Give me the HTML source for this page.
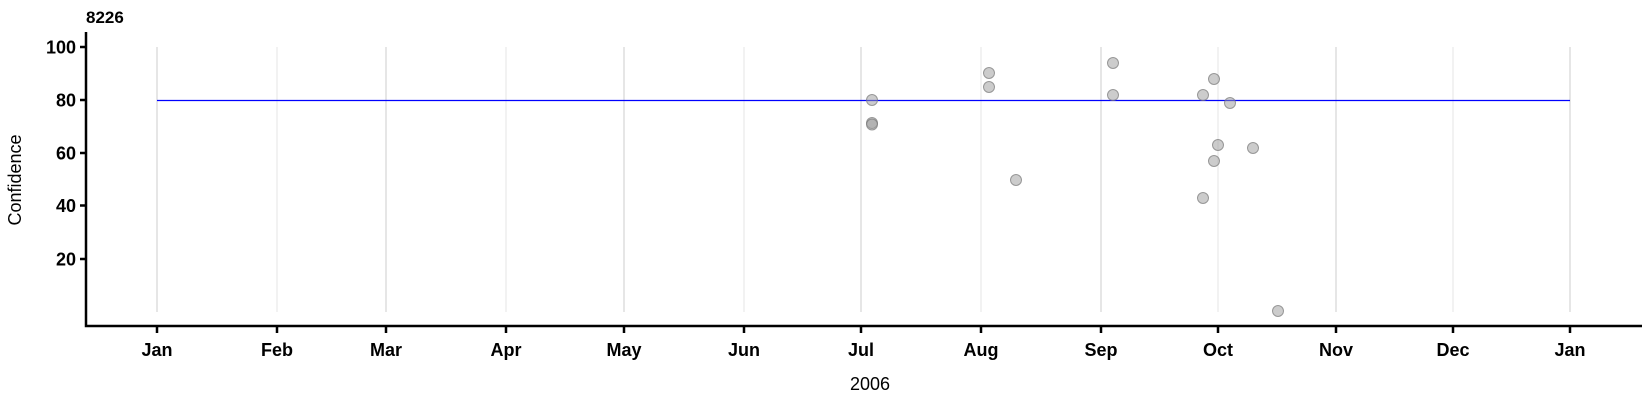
<!DOCTYPE html>
<html><head><style>body{margin:0;background:#fff}</style></head><body>
<svg width="1650" height="400" xmlns="http://www.w3.org/2000/svg" font-family="Liberation Sans, Arial, sans-serif">
<rect width="1650" height="400" fill="#fff"/>
<g stroke-width="1">
<line x1="157" x2="157" y1="47" y2="312" stroke="#ccc"/>
<line x1="277" x2="277" y1="47" y2="312" stroke="#e6e6e6"/>
<line x1="386" x2="386" y1="47" y2="312" stroke="#ccc"/>
<line x1="506" x2="506" y1="47" y2="312" stroke="#e6e6e6"/>
<line x1="624" x2="624" y1="47" y2="312" stroke="#ccc"/>
<line x1="744" x2="744" y1="47" y2="312" stroke="#e6e6e6"/>
<line x1="861" x2="861" y1="47" y2="312" stroke="#ccc"/>
<line x1="981" x2="981" y1="47" y2="312" stroke="#e6e6e6"/>
<line x1="1101" x2="1101" y1="47" y2="312" stroke="#ccc"/>
<line x1="1218" x2="1218" y1="47" y2="312" stroke="#e6e6e6"/>
<line x1="1336" x2="1336" y1="47" y2="312" stroke="#ccc"/>
<line x1="1453" x2="1453" y1="47" y2="312" stroke="#e6e6e6"/>
<line x1="1570" x2="1570" y1="47" y2="312" stroke="#ccc"/>
</g>
<line x1="157" x2="1570" y1="100.5" y2="100.5" stroke="#0000ff" stroke-width="1.2"/>
<g fill="#999" fill-opacity="0.5" stroke="#777" stroke-opacity="0.7" stroke-width="1">
<circle cx="872" cy="100" r="5.5"/><circle cx="872" cy="123" r="5.5"/><circle cx="872" cy="124.5" r="5.5"/>
<circle cx="989" cy="73" r="5.5"/><circle cx="989" cy="87" r="5.5"/><circle cx="1016" cy="180" r="5.5"/>
<circle cx="1113" cy="63" r="5.5"/><circle cx="1113" cy="95" r="5.5"/>
<circle cx="1203" cy="95" r="5.5"/><circle cx="1214" cy="79" r="5.5"/><circle cx="1230" cy="103" r="5.5"/>
<circle cx="1218" cy="145" r="5.5"/><circle cx="1214" cy="161" r="5.5"/><circle cx="1203" cy="198" r="5.5"/>
<circle cx="1253" cy="148" r="5.5"/><circle cx="1278" cy="311" r="5.5"/>
</g>
<g stroke="#000" stroke-width="2.5" fill="none">
<path d="M86 32 V326 H1642"/>
<path d="M80 47H86M80 100H86M80 153H86M80 205.5H86M80 259H86"/>
<path d="M157 326v7M277 326v7M386 326v7M506 326v7M624 326v7M744 326v7M861 326v7M981 326v7M1101 326v7M1218 326v7M1336 326v7M1453 326v7M1570 326v7"/>
</g>
<g font-weight="bold" font-size="18" text-anchor="end" fill="#000">
<text x="76" y="53.5">100</text><text x="76" y="106.5">80</text><text x="76" y="159.5">60</text><text x="76" y="212">40</text><text x="76" y="265.5">20</text>
</g>
<g font-weight="bold" font-size="18" text-anchor="middle" fill="#000">
<text x="157" y="356">Jan</text><text x="277" y="356">Feb</text><text x="386" y="356">Mar</text><text x="506" y="356">Apr</text><text x="624" y="356">May</text><text x="744" y="356">Jun</text><text x="861" y="356">Jul</text><text x="981" y="356">Aug</text><text x="1101" y="356">Sep</text><text x="1218" y="356">Oct</text><text x="1336" y="356">Nov</text><text x="1453" y="356">Dec</text><text x="1570" y="356">Jan</text>
</g>
<text x="86" y="23" font-weight="bold" font-size="17">8226</text>
<text x="870" y="390" font-size="18" text-anchor="middle">2006</text>
<text transform="translate(21,180) rotate(-90)" font-size="18" text-anchor="middle">Confidence</text>
</svg>
</body></html>
